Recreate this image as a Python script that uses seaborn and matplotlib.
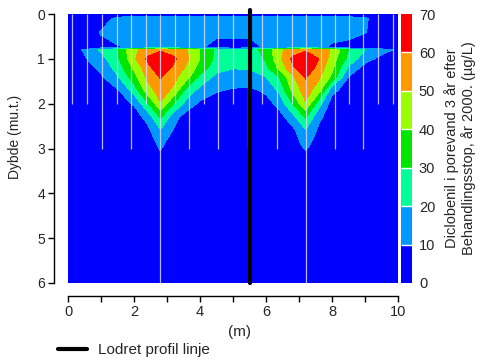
import numpy as np
import pandas as pd
import matplotlib
matplotlib.use("Agg")
import matplotlib.pyplot as plt
from matplotlib.colors import ListedColormap, BoundaryNorm
from matplotlib.lines import Line2D
from matplotlib.ticker import MultipleLocator
import seaborn as sns

# grid: horizontal position (m) and depth (m u.t.)
x_pos = [0, 0.5, 1.0, 1.5, 2.0, 2.4, 2.8, 3.2, 3.6, 4.0, 4.5, 5.0,
         5.5, 6.0, 6.4, 6.8, 7.2, 7.6, 8.0, 8.5, 9.0, 9.5, 10.0]
depths = [0, 0.1, 0.4, 0.75, 0.8, 1.0, 1.2, 1.4, 1.7, 2.0, 2.3, 2.6, 2.9, 3.2, 6.0]

# diclobenil in pore water (ug/L), one row per depth
conc = [
    [5, 5, 5, 5, 5, 5, 5, 5, 5, 5, 5, 5, 5, 5, 5, 5, 5, 5, 5, 5, 5, 5, 5],
    [5, 5, 6, 12, 14, 14, 14, 14, 14, 14, 14, 14, 14, 14, 14, 14, 14, 14, 14, 13, 11, 6, 5],
    [5, 6, 10.5, 15, 15, 15, 15, 15, 15, 14, 12, 12, 12, 14, 15, 15, 15, 15, 15, 14, 10.5, 5, 5],
    [5, 5, 8, 9, 11, 14, 14, 14, 13, 11, 7, 7, 7, 11, 13, 14, 14, 13, 8, 6, 5, 5, 5],
    [5, 11, 22, 30, 48, 54, 58, 55, 50, 40, 28, 24, 26, 33, 48, 54, 58, 55, 49, 30, 20, 14, 8],
    [5, 9, 16, 28, 48, 62, 70, 62, 52, 40, 27, 23, 24, 31, 47, 62, 70, 60, 45, 27, 14, 7, 5],
    [5, 6, 12, 24, 42, 56, 68, 58, 48, 36, 24, 20.5, 21, 28, 42, 58, 68, 56, 42, 18, 6, 5, 5],
    [5, 5, 9, 19, 36, 52, 61, 53, 44, 28, 17, 16, 16, 20, 30, 48, 61, 52, 38, 10, 5, 5, 5],
    [5, 5, 5, 9, 24, 45, 55, 48, 26, 17, 11, 9, 8, 12, 22, 42, 55, 44, 13, 5, 5, 5, 5],
    [5, 5, 5, 5, 11, 28, 49, 30, 16, 8, 5, 5, 5, 6, 13, 30, 49, 24, 5, 5, 5, 5, 5],
    [5, 5, 5, 5, 5, 13, 31, 14, 5, 5, 5, 5, 5, 5, 6, 16, 31, 12, 5, 5, 5, 5, 5],
    [5, 5, 5, 5, 5, 7, 19, 9, 5, 5, 5, 5, 5, 5, 5, 7, 19, 8, 5, 5, 5, 5, 5],
    [5, 5, 5, 5, 5, 5, 12, 5, 5, 5, 5, 5, 5, 5, 5, 5, 13, 5, 5, 5, 5, 5, 5],
    [5, 5, 5, 5, 5, 5, 8, 5, 5, 5, 5, 5, 5, 5, 5, 5, 7, 5, 5, 5, 5, 5, 5],
    [5, 5, 5, 5, 5, 5, 5, 5, 5, 5, 5, 5, 5, 5, 5, 5, 5, 5, 5, 5, 5, 5, 5],
]

# sampling columns and how deep they go
well_x = [0.12, 0.58, 1.03, 1.48, 1.9, 2.35, 2.8, 3.24, 3.67, 4.12, 4.55, 5.0,
          5.44, 5.88, 6.33, 6.79, 7.2, 7.67, 8.1, 8.5, 8.94, 9.4, 9.85]
well_bottom = [2, 2, 3, 2, 3, 2, 6, 2, 3, 2, 3, 2,
               3, 2, 3, 2, 6, 2, 3, 2, 3, 2, 2]

profile_x = 5.5
levels = [0, 10, 20, 30, 40, 50, 60, 70]
level_colors = ['#0000ff', '#0099ff', '#00ff99', '#00e600', '#99ff00', '#ff9900', '#ff0000']

df = pd.DataFrame(conc, index=depths, columns=x_pos)

sns.set_style("ticks")
plt.rcParams['font.family'] = ['Liberation Sans', 'DejaVu Sans']

fig = plt.figure(figsize=(4.9, 3.63), dpi=100)
ax = fig.add_axes([68 / 490, 1 - 283 / 363, 330 / 490, 269 / 363])
cax = fig.add_axes([401 / 490, 1 - 283 / 363, 11 / 490, 269 / 363])

cmap = ListedColormap(level_colors)
norm = BoundaryNorm(levels, cmap.N)
cs = ax.contourf(df.columns.values, df.index.values, df.values,
                 levels=levels, cmap=cmap, norm=norm)

ax.vlines(well_x, 0, well_bottom, colors='#d8d8ff', lw=0.9, alpha=0.85)
ax.axvline(profile_x, ymin=0, ymax=1.015, color='black', lw=3, clip_on=False)

ax.set_xlim(0, 10)
ax.set_ylim(6, 0)
ax.xaxis.set_major_locator(MultipleLocator(2))
ax.xaxis.set_minor_locator(MultipleLocator(1))
ax.yaxis.set_major_locator(MultipleLocator(1))
ax.tick_params(axis='both', which='both', direction='out', length=4.5, width=1,
               color='black', pad=2)
ax.tick_params(axis='x', labelsize=10.5)
ax.tick_params(axis='y', labelsize=10)
ax.set_xlabel('(m)', fontsize=11)
ax.set_ylabel('Dybde (mu.t.)', fontsize=10)
ax.xaxis.set_label_coords(0.52, -0.155)
ax.yaxis.set_label_coords(-0.14, 0.543)
sns.despine(ax=ax, offset={'left': 10, 'bottom': 9}, trim=True)
for side in ['left', 'bottom']:
    ax.spines[side].set_color('black')
    ax.spines[side].set_linewidth(1)

cbar = fig.colorbar(cs, cax=cax, ticks=levels, drawedges=True)
cbar.outline.set_visible(False)
cbar.dividers.set_color('white')
cbar.dividers.set_linewidth(1)
cbar.ax.tick_params(length=0, labelsize=10.5, pad=5)
cbar.set_label('Diclobenil i porevand 3 år efter\nBehandlingsstop, år 2000. (µg/L)',
               fontsize=10.5, labelpad=6)

handle = Line2D([], [], color='black', lw=3)
fig.legend([handle], ['Lodret profil linje'], loc='center left',
           bbox_to_anchor=(0.09, 0.035), frameon=False, fontsize=11,
           handlelength=1.9, handletextpad=0.7)

fig.savefig('out.png', dpi=100)
